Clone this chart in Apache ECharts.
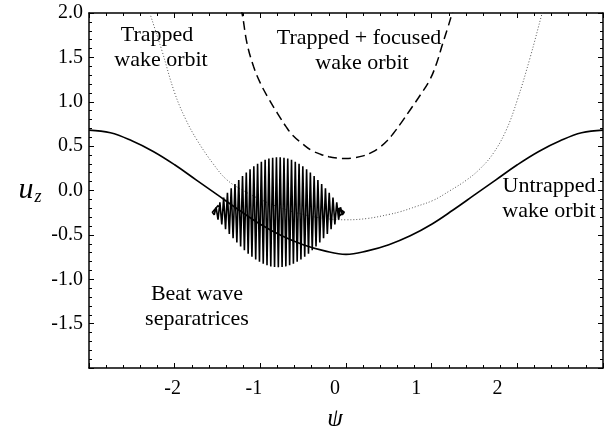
<!DOCTYPE html>
<html>
<head>
<meta charset="utf-8">
<script src="https://cdn.jsdelivr.net/npm/echarts@6/dist/echarts.min.js"></script>
<style>
  html, body { margin: 0; padding: 0; background: #fff; }
  #chart { width: 605px; height: 426px; }
</style>
</head>
<body>
<div id="chart"></div>
<script>
// untrapped wake orbit, sampled every 0.25 in psi
const psiGrid = [-3, -2.75, -2.5, -2.25, -2, -1.75, -1.5, -1.25, -1, -0.75, -0.5, -0.25, 0,
  0.25, 0.5, 0.75, 1, 1.25, 1.5, 1.75, 2, 2.25, 2.5, 2.75, 3];
const untrappedU = [0.68, 0.65, 0.56, 0.44, 0.29, 0.12, -0.05, -0.22, -0.38, -0.51, -0.61, -0.68, -0.72,
  -0.68, -0.61, -0.51, -0.38, -0.22, -0.05, 0.12, 0.29, 0.44, 0.56, 0.65, 0.68];

// trapped wake orbit (dotted)
const trapped = [[-2.32, 2.1], [-2.29, 2.0], [-2.15, 1.58], [-2.0, 1.1], [-1.87, 0.8], [-1.74, 0.57],
  [-1.55, 0.3], [-1.39, 0.12], [-1.2, 0.0], [-1.0, -0.1], [-0.75, -0.2], [-0.5, -0.27], [-0.25, -0.315],
  [0, -0.33], [0.25, -0.315], [0.5, -0.27], [0.63, -0.24], [0.82, -0.18], [1.02, -0.11], [1.2, -0.01],
  [1.41, 0.12], [1.57, 0.25], [1.72, 0.42], [1.87, 0.68], [2.0, 1.02], [2.15, 1.5], [2.29, 2.0], [2.32, 2.1]];

// trapped + focused wake orbit (dashed)
const focused = [[-1.24, 2.06], [-1.214, 2.0], [-1.156, 1.66], [-1.08, 1.4], [-1.0, 1.21], [-0.9, 1.03],
  [-0.8, 0.87], [-0.7, 0.72], [-0.62, 0.62], [-0.5, 0.52], [-0.4, 0.45], [-0.3, 0.41], [-0.2, 0.38],
  [-0.1, 0.365], [0, 0.36], [0.1, 0.37], [0.2, 0.39], [0.3, 0.43], [0.4, 0.49], [0.48, 0.56], [0.55, 0.64],
  [0.65, 0.77], [0.75, 0.91], [0.87, 1.08], [0.98, 1.25], [1.06, 1.44], [1.13, 1.66], [1.19, 1.84],
  [1.24, 2.0], [1.26, 2.06]];

// beat wave separatrices, fast oscillation between upper and lower branch
const separatrix = [[-1.49, -0.165],
  [-1.560, -0.245], [-1.538, -0.273], [-1.516, -0.189], [-1.494, -0.328], [-1.472, -0.134],
  [-1.450, -0.383], [-1.428, -0.080], [-1.406, -0.437], [-1.384, -0.027], [-1.362, -0.489],
  [-1.340, 0.024], [-1.318, -0.539], [-1.296, 0.073], [-1.274, -0.587], [-1.252, 0.119],
  [-1.230, -0.632], [-1.208, 0.163], [-1.186, -0.673], [-1.164, 0.203], [-1.142, -0.712],
  [-1.120, 0.240], [-1.098, -0.747], [-1.076, 0.272], [-1.054, -0.777], [-1.032, 0.301],
  [-1.010, -0.804], [-0.988, 0.325], [-0.966, -0.825], [-0.944, 0.345], [-0.922, -0.843],
  [-0.900, 0.359], [-0.878, -0.855], [-0.856, 0.369], [-0.834, -0.863], [-0.812, 0.374],
  [-0.790, -0.865], [-0.768, 0.374], [-0.746, -0.863], [-0.724, 0.369], [-0.702, -0.855],
  [-0.680, 0.359], [-0.658, -0.843], [-0.636, 0.345], [-0.614, -0.825], [-0.592, 0.325],
  [-0.570, -0.804], [-0.548, 0.301], [-0.526, -0.777], [-0.504, 0.272], [-0.482, -0.747],
  [-0.460, 0.240], [-0.438, -0.712], [-0.416, 0.203], [-0.394, -0.673], [-0.372, 0.163],
  [-0.350, -0.632], [-0.328, 0.119], [-0.306, -0.587], [-0.284, 0.073], [-0.262, -0.539],
  [-0.240, 0.024], [-0.218, -0.489], [-0.196, -0.027], [-0.174, -0.437], [-0.152, -0.080],
  [-0.130, -0.383], [-0.108, -0.134], [-0.086, -0.328], [-0.064, -0.189], [-0.042, -0.273],
  [-0.020, -0.245], [-0.085, -0.2], [-0.085, -0.29], [-0.020, -0.245]];

const xTickValues = [-2, -1, 0, 1, 2];
const yTickLabels = { '2': '2.0', '1.5': '1.5', '1': '1.0', '0.5': '0.5', '0': '0.0',
  '-0.5': '-0.5', '-1': '-1.0', '-1.5': '-1.5' };

const serif = '"Liberation Serif", "DejaVu Serif", serif';

const chart = echarts.init(document.getElementById('chart'));

const frameAxis = {
  type: 'value',
  axisLine: { show: true, onZero: false, lineStyle: { color: '#000', width: 1.5 } },
  axisTick: { show: true, inside: true, length: 5, lineStyle: { color: '#000', width: 1 } },
  minorTick: { show: true, splitNumber: 5, length: 3, lineStyle: { color: '#000', width: 1 } },
  splitLine: { show: false },
  minorSplitLine: { show: false }
};

function txt(t, x, y) {
  return {
    type: 'text', x: x, y: y, silent: true,
    style: { text: t, font: '22px ' + serif, fill: '#000', align: 'center', verticalAlign: 'middle' }
  };
}

const option = {
  backgroundColor: '#fff',
  animation: false,
  grid: { left: 89, right: 2, top: 13, bottom: 58 },
  xAxis: [
    Object.assign({}, frameAxis, {
      min: -3, max: 3, interval: 1, position: 'bottom',
      axisLabel: { show: false }
    }),
    Object.assign({}, frameAxis, {
      min: -3, max: 3, interval: 1, position: 'top',
      axisLabel: { show: false }
    }),
    // label-only axis: the printed psi labels sit slightly left of the frame ticks
    {
      type: 'value', min: -3.03, max: 3.3, position: 'bottom',
      axisLine: { show: false, onZero: false }, axisTick: { show: false },
      splitLine: { show: false },
      axisLabel: {
        customValues: xTickValues, margin: 11, color: '#000', fontFamily: serif, fontSize: 20,
        formatter: v => String(v)
      }
    }
  ],
  yAxis: [
    Object.assign({}, frameAxis, {
      min: -2, max: 2, interval: 0.5, position: 'left',
      axisLabel: {
        margin: 6, color: '#000', fontFamily: serif, fontSize: 20,
        formatter: v => yTickLabels[String(v)] || ''
      }
    }),
    Object.assign({}, frameAxis, {
      min: -2, max: 2, interval: 0.5, position: 'right',
      axisLabel: { show: false }
    })
  ],
  series: [
    {
      name: 'Untrapped wake orbit', type: 'line', smooth: 0.4, showSymbol: false,
      data: psiGrid.map((p, i) => [p, untrappedU[i]]),
      lineStyle: { color: '#000', width: 1.6 }
    },
    {
      name: 'Trapped wake orbit', type: 'line', smooth: 0.4, showSymbol: false,
      data: trapped,
      lineStyle: { color: '#555', width: 1, type: [1, 2] }
    },
    {
      name: 'Trapped + focused wake orbit', type: 'line', smooth: 0.4, showSymbol: false,
      data: focused,
      lineStyle: { color: '#000', width: 1.5, type: [9, 5] }
    },
    {
      name: 'Beat wave separatrices', type: 'line', showSymbol: false,
      data: separatrix,
      lineStyle: { color: '#000', width: 1.6 }
    }
  ],
  graphic: [
    txt('Trapped', 157, 35), txt('wake orbit', 161, 60),
    txt('Trapped + focused', 359, 38), txt('wake orbit', 362, 63),
    txt('Untrapped', 549, 186), txt('wake orbit', 549, 211),
    txt('Beat wave', 197, 294), txt('separatrices', 197, 319),
    {
      type: 'text', x: 335, y: 419, silent: true,
      style: { text: 'ψ', font: 'italic 25px ' + serif, fill: '#000', align: 'center', verticalAlign: 'middle' }
    },
    {
      type: 'text', x: 30, y: 190, silent: true,
      style: {
        text: '{u|u}{z|z}', align: 'center', verticalAlign: 'middle',
        rich: {
          u: { font: 'italic 30px ' + serif, fill: '#000' },
          z: { font: 'italic 18px ' + serif, fill: '#000', padding: [14, 0, 0, 1] }
        }
      }
    }
  ]
};

chart.setOption(option);
</script>
</body>
</html>
